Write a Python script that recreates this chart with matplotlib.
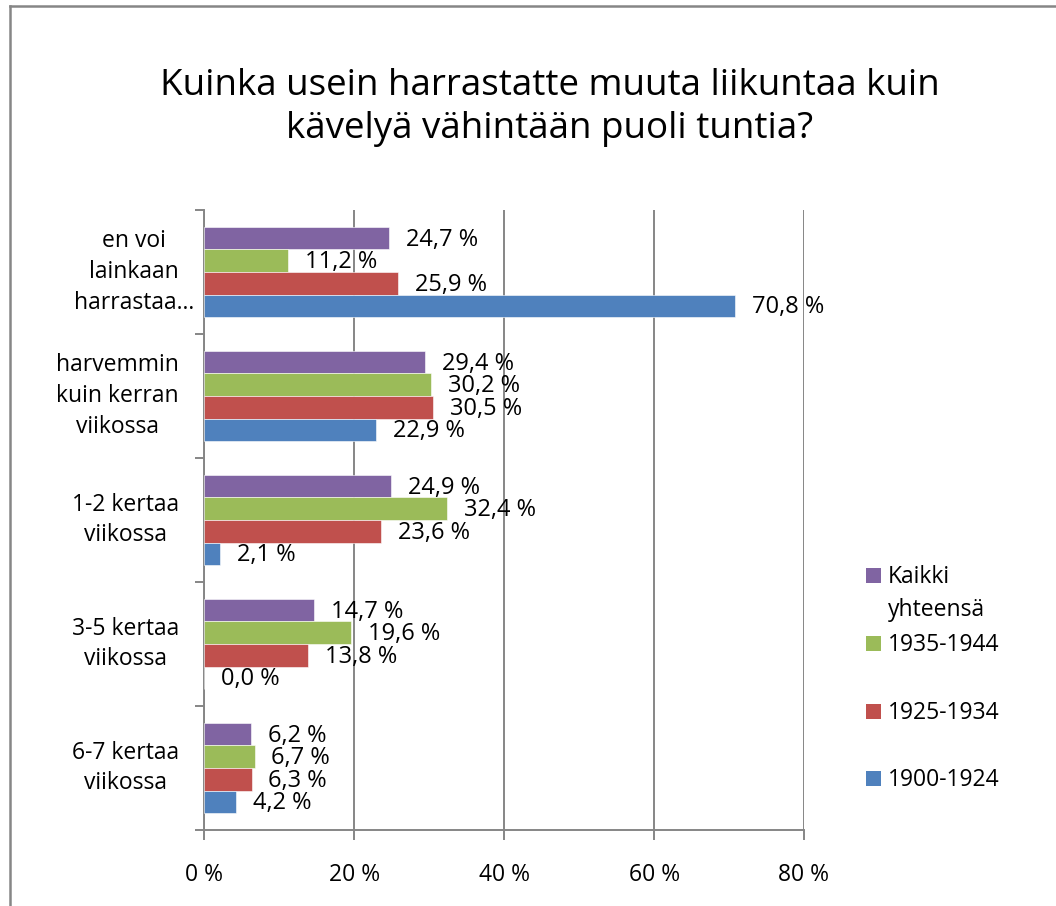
import matplotlib
matplotlib.use("Agg")
import matplotlib.pyplot as plt
from matplotlib.patches import Rectangle
from matplotlib.lines import Line2D

plt.rcParams['font.family'] = ['Open Sans', 'DejaVu Sans']

title_lines = ["Kuinka usein harrastatte muuta liikuntaa kuin",
               "kävelyä vähintään puoli tuntia?"]
categories = ["en voi\nlainkaan\nharrastaa…",
              "harvemmin\nkuin kerran\nviikossa",
              "1-2 kertaa\nviikossa",
              "3-5 kertaa\nviikossa",
              "6-7 kertaa\nviikossa"]
series_names = ["Kaikki\nyhteensä", "1935-1944", "1925-1934", "1900-1924"]
kaikki = [24.7, 29.4, 24.9, 14.7, 6.2]
s1935 = [11.2, 30.2, 32.4, 19.6, 6.7]
s1925 = [25.9, 30.5, 23.6, 13.8, 6.3]
s1900 = [70.8, 22.9, 2.1, 0.0, 4.2]
series = [kaikki, s1935, s1925, s1900]
colors = ["#8064A2", "#9BBB59", "#C0504D", "#4F81BD"]
xticks = [0, 20, 40, 60, 80]

W, H = 1056, 906
fig = plt.figure(figsize=(W / 100, H / 100), dpi=100)

def fx(px):
    return px / W

def fy(py):
    return 1 - py / H

# outer chart frame (left and top visible)
grey = "#868686"
fig.add_artist(Line2D([fx(10), fx(10)], [fy(6), 0], transform=fig.transFigure, color=grey, lw=1.8))
fig.add_artist(Line2D([fx(10), 1], [fy(6), fy(6)], transform=fig.transFigure, color=grey, lw=1.8))

# title
fig.text(fx(550), fy(95), title_lines[0], ha='center', va='baseline', fontsize=26.5, color='black')
fig.text(fx(550), fy(138), title_lines[1], ha='center', va='baseline', fontsize=26.5, color='black')

left, right, top, bottom = 204.3, 804, 210, 830
ax = fig.add_axes([fx(left), fy(bottom), fx(right - left), (bottom - top) / H])
ax.set_xlim(0, 80)
ax.set_ylim(0, 5)

n = len(categories)
h = 1 / 5.5
offsets = [1.5 * h, 0.5 * h, -0.5 * h, -1.5 * h]
for s, (vals, col, off) in enumerate(zip(series, colors, offsets)):
    ys = [n - 0.5 - i + off for i in range(n)]
    ax.barh(ys, vals, height=h, color=col, edgecolor='white', linewidth=0.4, zorder=3)
    for y, v in zip(ys, vals):
        ax.annotate(f"{v:.1f} %".replace('.', ','), xy=(v, y), xytext=(12.2, -1),
                    textcoords='offset points', ha='left', va='center',
                    fontsize=17, color='black', zorder=4)

# grid and axes styling
ax.set_xticks(xticks)
ax.set_xticklabels([f"{t} %" for t in xticks])
ax.xaxis.grid(True, color=grey, lw=1.4, zorder=0)
ax.set_yticks(range(n + 1))
ax.set_yticklabels([])
for sp in ['top', 'right']:
    ax.spines[sp].set_visible(False)
for sp in ['left', 'bottom']:
    ax.spines[sp].set_color(grey)
    ax.spines[sp].set_linewidth(1.4)
ax.tick_params(axis='x', direction='out', length=7, width=1.4, color=grey,
               labelsize=16.5, pad=17)
ax.tick_params(axis='y', direction='out', length=6.5, width=1.4, color=grey)

# category labels
for i, cat in enumerate(categories):
    xr = 194 if i == 0 else 179
    ax.text((xr - left) / (right - left), n - 0.5 - i, cat, transform=ax.get_yaxis_transform(),
            ha='right', va='center', multialignment='center', fontsize=16.5,
            linespacing=1.38, color='black')

# legend
leg_y = [575, 643, 711, 778]
for name, col, yc in zip(series_names, colors, leg_y):
    fig.add_artist(Rectangle((fx(866), fy(yc + 7.5)), fx(15), 15 / H,
                             transform=fig.transFigure, facecolor=col, edgecolor='none'))
    for k, line in enumerate(name.split("\n")):
        fig.text(fx(888), fy(yc + 8 + 33 * k), line, ha='left', va='baseline',
                 fontsize=16.5, color='black')

fig.savefig("out.png", dpi=100)
